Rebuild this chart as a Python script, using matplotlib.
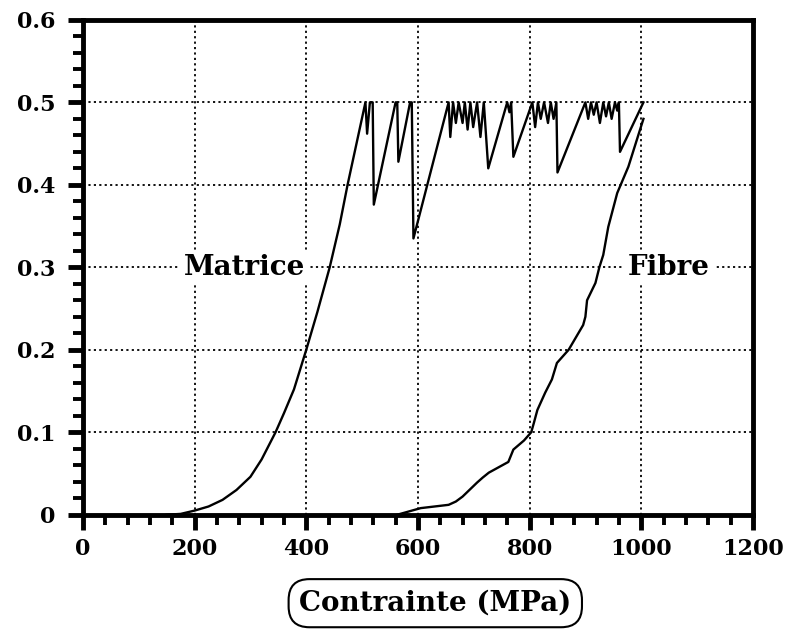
import numpy as np
import matplotlib.pyplot as plt
from matplotlib.ticker import MultipleLocator

# Matrice curve (stress MPa, fraction)
matrice_x = [150, 175, 200, 225, 250, 275, 300, 320, 345, 360, 378, 400, 420, 442, 460, 474, 490, 506,
             509, 514, 519, 521, 560, 563, 565, 586, 589, 592,
             655, 658, 663, 668, 673, 680, 684, 689, 694, 699, 706, 712, 718, 726,
             760, 764, 767, 771, 805, 810, 815, 820, 826, 833, 838, 843, 848, 850,
             900, 905, 910, 915, 920, 926, 932, 937, 942, 947, 953, 957, 960, 962, 1004]
matrice_y = [0.0, 0.001, 0.005, 0.01, 0.018, 0.03, 0.046, 0.067, 0.1, 0.123, 0.152, 0.2, 0.246, 0.3, 0.352, 0.4, 0.45, 0.5,
             0.462, 0.5, 0.5, 0.376, 0.5, 0.5, 0.428, 0.5, 0.5, 0.335,
             0.5, 0.458, 0.5, 0.475, 0.5, 0.475, 0.5, 0.467, 0.5, 0.47, 0.5, 0.458, 0.5, 0.42,
             0.5, 0.488, 0.5, 0.434, 0.5, 0.47, 0.5, 0.48, 0.5, 0.475, 0.5, 0.48, 0.5, 0.415,
             0.5, 0.48, 0.5, 0.485, 0.5, 0.475, 0.5, 0.483, 0.5, 0.48, 0.5, 0.49, 0.5, 0.44, 0.5]

# Fibre curve
fibre_x = [563, 605, 655, 668, 680, 706, 716, 727, 762, 771, 790, 803, 808, 814, 828, 840, 849, 870,
           896, 900, 903, 918, 925, 932, 941, 957, 977, 1004]
fibre_y = [0.0, 0.008, 0.012, 0.016, 0.022, 0.039, 0.045, 0.051, 0.064, 0.079, 0.09, 0.1, 0.112, 0.127,
           0.148, 0.164, 0.184, 0.2, 0.23, 0.24, 0.26, 0.281, 0.3, 0.315, 0.349, 0.39, 0.422, 0.48]

plt.rcParams['font.family'] = 'DejaVu Serif'
plt.rcParams['font.weight'] = 'bold'

fig = plt.figure(figsize=(7.9, 6.41), dpi=100)
ax = fig.add_axes([0.105, 0.197, 0.848, 0.772])

ax.plot(matrice_x, matrice_y, color='black', lw=1.7)
ax.plot(fibre_x, fibre_y, color='black', lw=1.7)

ax.set_xlim(0, 1200)
ax.set_ylim(0, 0.6)
ax.xaxis.set_major_locator(MultipleLocator(200))
ax.xaxis.set_minor_locator(MultipleLocator(40))
ax.yaxis.set_major_locator(MultipleLocator(0.1))
ax.yaxis.set_minor_locator(MultipleLocator(0.02))
ax.set_yticks([0, 0.1, 0.2, 0.3, 0.4, 0.5, 0.6])
ax.set_yticklabels(['0', '0.1', '0.2', '0.3', '0.4', '0.5', '0.6'])

ax.grid(True, which='major', color='black', linestyle=(0, (1.2, 1.8)), linewidth=1.3)
ax.set_axisbelow(True)

for s in ax.spines.values():
    s.set_linewidth(3.5)

ax.tick_params(which='major', direction='out', length=11, width=3.5, labelsize=16, pad=6)
ax.tick_params(which='minor', direction='out', length=7, width=2.8)
ax.tick_params(axis='y', which='major', pad=9)

ax.text(290, 0.3, 'Matrice', fontsize=20, fontweight='bold', ha='center', va='center',
        bbox=dict(facecolor='white', edgecolor='none', pad=3))
ax.text(1050, 0.3, 'Fibre', fontsize=20, fontweight='bold', ha='center', va='center',
        bbox=dict(facecolor='white', edgecolor='none', pad=3))

# x label in a rounded box
fig.text(0.551, 0.059, 'Contrainte (MPa)', fontsize=20, fontweight='bold', ha='center', va='center',
         bbox=dict(boxstyle='round,pad=0.38,rounding_size=0.75', facecolor='white', edgecolor='black', lw=1.5))

fig.savefig('out.png', dpi=100)
